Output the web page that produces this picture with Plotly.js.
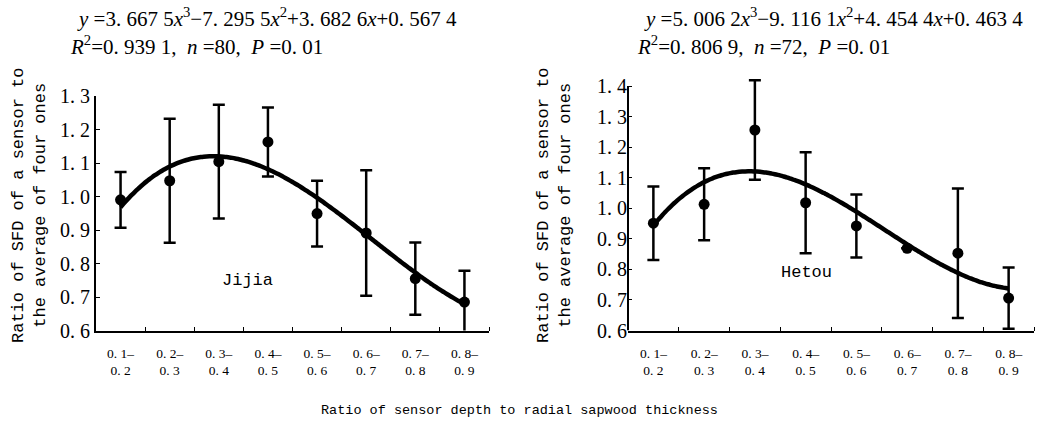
<!DOCTYPE html>
<html>
<head>
<meta charset="utf-8">
<script src="https://cdn.plot.ly/plotly-3.0.1.min.js"></script>
<style>html,body{margin:0;padding:0;background:#fff;}#chart{width:1037px;height:424px;}</style>
</head>
<body>
<div id="chart"></div>
<script>
// ---- data ----
var depthLabels = ["0. 1–<br>0. 2","0. 2–<br>0. 3","0. 3–<br>0. 4","0. 4–<br>0. 5","0. 5–<br>0. 6","0. 6–<br>0. 7","0. 7–<br>0. 8","0. 8–<br>0. 9"];
var depthMid = [0.15,0.25,0.35,0.45,0.55,0.65,0.75,0.85];
var jijiaMean = [0.99, 1.047, 1.104, 1.163, 0.949, 0.891, 0.755, 0.685];
var jijiaSD   = [0.083, 0.185, 0.170, 0.103, 0.098, 0.187, 0.108, 0.093];
var hetouMean = [0.951, 1.013, 1.256, 1.018, 0.942, 0.869, 0.853, 0.706];
var hetouSD   = [0.120, 0.118, 0.163, 0.165, 0.103, 0.0, 0.212, 0.100];
// fitted cubic coefficients printed on the chart: [a3, a2, a1, a0]
var jijiaCoef = [3.6675, -7.2955, 3.6826, 0.5674];
var hetouCoef = [5.0062, -9.1161, 4.4544, 0.4634];
var yTicksJijia = [0.6,0.7,0.8,0.9,1.0,1.1,1.2,1.3];
var yTicksHetou = [0.6,0.7,0.8,0.9,1.0,1.1,1.2,1.3,1.4];
var jijiaEq = ["<i>y</i> =3. 667 5<i>x</i><sup>3</sup>−7. 295 5<i>x</i><sup>2</sup>+3. 682 6<i>x</i>+0. 567 4",
               "<i>R</i><sup>2</sup>=0. 939 1,  <i>n</i> =80,  <i>P</i> =0. 01"];
var hetouEq = ["<i>y</i> =5. 006 2<i>x</i><sup>3</sup>−9. 116 1<i>x</i><sup>2</sup>+4. 454 4<i>x</i>+0. 463 4",
               "<i>R</i><sup>2</sup>=0. 806 9,  <i>n</i> =72,  <i>P</i> =0. 01"];
var yTitle = "Ratio of SFD of a sensor to<br>the average of four ones";
var xTitle = "Ratio of sensor depth to radial sapwood thickness";

// ---- helpers ----
var W = 1037, H = 424;
function px(x){ return x / W; }
function py(y){ return 1 - y / H; }
var idx = depthMid.map(function(_, i){ return i; });
function fmtTick(v){ return v.toFixed(1).replace('.', '. '); }

function curve(coef){
  var xs = [], ys = [];
  var n = 120;
  for (var k = 0; k <= n; k++){
    var d = depthMid[0] + (depthMid[depthMid.length-1] - depthMid[0]) * k / n;
    var y = coef[0]*d*d*d + coef[1]*d*d + coef[2]*d + coef[3];
    xs.push((d - depthMid[0]) / (depthMid[1] - depthMid[0]));
    ys.push(y);
  }
  return {x: xs, y: ys};
}

var cj = curve(jijiaCoef), ch = curve(hetouCoef);

var traces = [
  {x: idx, y: jijiaMean, xaxis: 'x', yaxis: 'y', type: 'scatter', mode: 'markers',
   marker: {color: '#000', size: 11},
   error_y: {type: 'data', array: jijiaSD, visible: true, color: '#000', thickness: 2.5, width: 6},
   cliponaxis: false, hoverinfo: 'skip'},
  {x: cj.x, y: cj.y, xaxis: 'x', yaxis: 'y', type: 'scatter', mode: 'lines',
   line: {color: '#000', width: 4.5, shape: 'spline'}, hoverinfo: 'skip'},
  {x: idx, y: hetouMean, xaxis: 'x2', yaxis: 'y2', type: 'scatter', mode: 'markers',
   marker: {color: '#000', size: 11},
   error_y: {type: 'data', array: hetouSD, visible: true, color: '#000', thickness: 2.5, width: 6},
   cliponaxis: false, hoverinfo: 'skip'},
  {x: ch.x, y: ch.y, xaxis: 'x2', yaxis: 'y2', type: 'scatter', mode: 'lines',
   line: {color: '#000', width: 4.5, shape: 'spline'}, hoverinfo: 'skip'}
];

function xAxis(domain, anchor){
  return {
    domain: domain, anchor: anchor, range: [-0.5, 7.5],
    showline: true, linecolor: '#000', linewidth: 2,
    showgrid: false, zeroline: false,
    tickmode: 'array', tickvals: idx, ticktext: depthLabels, ticks: '',
    ticklabelstandoff: 9,
    tickfont: {family: 'Liberation Serif', size: 13.5, color: '#000'},
    minor: {tickmode: 'array', tickvals: [0.5,1.5,2.5,3.5,4.5,5.5,6.5,7.5], ticks: 'inside', ticklen: 4, tickwidth: 1, tickcolor: '#000'},
    fixedrange: true
  };
}
function yAxis(domain, anchor, range, tv, line){
  return {
    domain: domain, anchor: anchor, range: range,
    showline: line, linecolor: '#000', linewidth: 2,
    showgrid: false, zeroline: false,
    tickmode: 'array', tickvals: tv, ticktext: tv.map(fmtTick),
    ticks: 'inside', ticklen: 4, tickwidth: 1, tickcolor: '#000',
    tickfont: {family: 'Liberation Serif', size: 20, color: '#000'},
    fixedrange: true
  };
}

var eqFont = {family: 'Liberation Serif', size: 21, color: '#000'};
var annotations = [
  {text: jijiaEq[0], x: px(75), y: py(17), xref: 'paper', yref: 'paper', xanchor: 'left', yanchor: 'middle', showarrow: false, font: eqFont},
  {text: jijiaEq[1], x: px(68), y: py(45), xref: 'paper', yref: 'paper', xanchor: 'left', yanchor: 'middle', showarrow: false, font: eqFont},
  {text: hetouEq[0], x: px(642), y: py(17), xref: 'paper', yref: 'paper', xanchor: 'left', yanchor: 'middle', showarrow: false, font: eqFont},
  {text: hetouEq[1], x: px(635), y: py(45), xref: 'paper', yref: 'paper', xanchor: 'left', yanchor: 'middle', showarrow: false, font: eqFont},
  {text: yTitle, x: px(29), y: py(206), xref: 'paper', yref: 'paper', xanchor: 'center', yanchor: 'middle', textangle: -90, showarrow: false,
   font: {family: 'Liberation Mono', size: 17, color: '#000'}},
  {text: yTitle, x: px(554), y: py(206), xref: 'paper', yref: 'paper', xanchor: 'center', yanchor: 'middle', textangle: -90, showarrow: false,
   font: {family: 'Liberation Mono', size: 17, color: '#000'}},
  {text: 'Jijia', x: px(247), y: py(280), xref: 'paper', yref: 'paper', xanchor: 'center', yanchor: 'middle', showarrow: false,
   font: {family: 'Liberation Mono', size: 17, color: '#000'}},
  {text: 'Hetou', x: px(806), y: py(272), xref: 'paper', yref: 'paper', xanchor: 'center', yanchor: 'middle', showarrow: false,
   font: {family: 'Liberation Mono', size: 17, color: '#000'}},
  {text: xTitle, x: px(519), y: py(410), xref: 'paper', yref: 'paper', xanchor: 'center', yanchor: 'middle', showarrow: false,
   font: {family: 'Liberation Mono', size: 13.5, color: '#000'}}
];

// right panel: extend the value range slightly so the top error cap is not clipped,
// keeping 0.6 and 1.4 at the same pixel rows as the reference
var y2Top = 1.43;
var y2TopPx = 330.5 - (y2Top - 0.6) * (330.5 - 86) / 0.8;

var layout = {
  width: W, height: H,
  margin: {l: 0, r: 0, t: 0, b: 0},
  paper_bgcolor: '#fff', plot_bgcolor: '#fff',
  showlegend: false,
  xaxis: xAxis([px(96), px(489)], 'y'),
  yaxis: yAxis([py(330.5), py(96)], 'x', [0.6, 1.3], yTicksJijia, true),
  xaxis2: xAxis([px(628), px(1034)], 'y2'),
  yaxis2: yAxis([py(330.5), py(y2TopPx)], 'x2', [0.6, y2Top], yTicksHetou, false),
  shapes: [
    {type: 'line', xref: 'x2 domain', yref: 'y2', x0: 0, x1: 0,
     y0: yTicksHetou[0], y1: yTicksHetou[yTicksHetou.length-1], line: {color: '#000', width: 2}}
  ],
  annotations: annotations
};

Plotly.newPlot('chart', traces, layout, {displayModeBar: false, staticPlot: true});
</script>
</body>
</html>
